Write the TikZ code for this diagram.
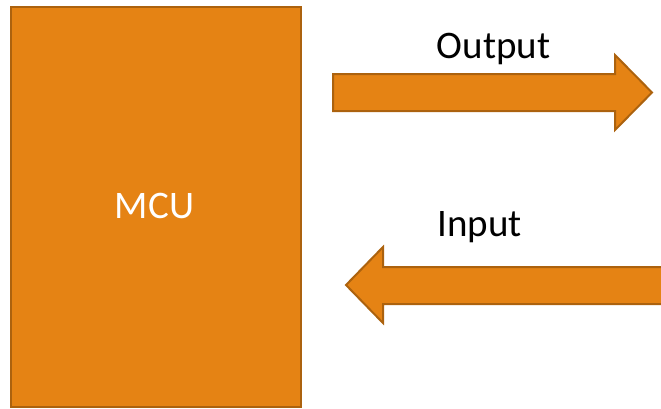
\documentclass[tikz,border=0pt]{standalone}
\usepackage{fontspec}
\setmainfont{Carlito}
\usetikzlibrary{positioning}
\definecolor{mcuorange}{RGB}{229,131,20}
\definecolor{mcuedge}{RGB}{172,98,14}
\begin{document}
\begin{tikzpicture}[x=1pt, y=-1pt,
    mcubox/.style={rectangle, draw=mcuedge, line width=2pt, fill=mcuorange,
        minimum width=290pt, minimum height=400pt, inner sep=0pt},
    fatarrow/.style={draw=mcuedge, line width=2pt, fill=mcuorange, line join=miter},
    lbl/.style={anchor=base, font=\fontsize{39}{41}\selectfont, inner sep=0pt}
]
    \useasboundingbox (0,0) rectangle (661,408);

    % microcontroller block
    \node[mcubox] (mcu) at (155.5,206.5) {};
    \node[lbl, text=white] (mcutext) at (154.5,218) {MCU};

    % output arrow (pointing right)
    \coordinate (outtip) at (652,92.5);
    \draw[fatarrow] (333,74) -- (615,74) -- (615,55) -- (outtip)
        -- (615,130) -- (615,111) -- (333,111) -- cycle;
    \node[lbl] (outlbl) at (493.5,58) {Output};

    % input arrow (pointing left, runs off the page)
    \coordinate (intip) at (346,285);
    \draw[fatarrow] (672,267) -- (383,267) -- (383,247) -- (intip)
        -- (383,323) -- (383,304) -- (672,304);
    \node[lbl] (inlbl) at (479.5,236) {Input};
\end{tikzpicture}
\end{document}
